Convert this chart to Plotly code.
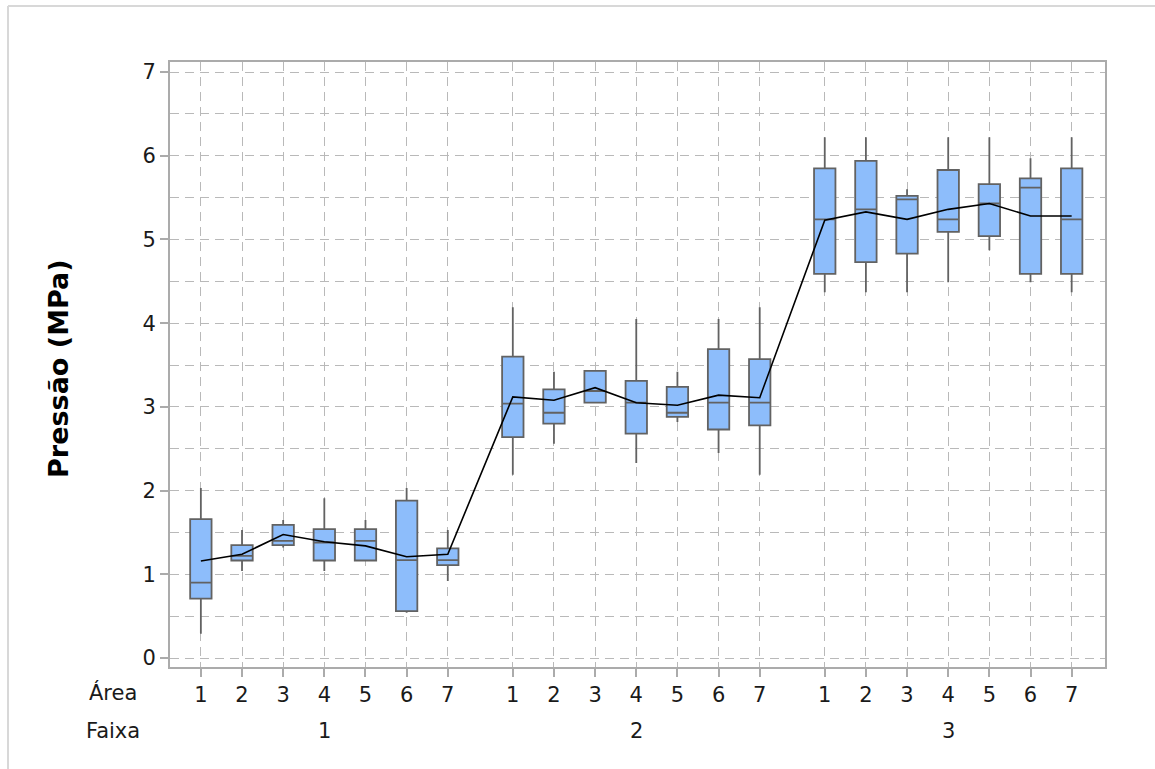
import plotly.graph_objects as go

# Pressure statistics per (Faixa, Área) cell, 7 areas in each of 3 faixas
faixas = [1, 2, 3]
areas = [1, 2, 3, 4, 5, 6, 7]

whisker_hi = [2.03, 1.53, 1.65, 1.91, 1.65, 2.03, 1.53,
              4.19, 3.42, 3.43, 4.05, 3.42, 4.05, 4.19,
              6.22, 6.22, 5.60, 6.22, 6.22, 5.97, 6.22]
q3 = [1.66, 1.35, 1.59, 1.54, 1.54, 1.88, 1.31,
      3.60, 3.21, 3.43, 3.31, 3.24, 3.69, 3.57,
      5.85, 5.94, 5.52, 5.83, 5.66, 5.73, 5.85]
median = [0.90, 1.22, 1.40, 1.38, 1.40, 1.17, 1.17,
          3.04, 2.93, 3.19, 3.05, 2.93, 3.05, 3.05,
          5.24, 5.36, 5.48, 5.24, 5.43, 5.62, 5.24]
q1 = [0.71, 1.165, 1.35, 1.165, 1.165, 0.56, 1.11,
      2.64, 2.80, 3.05, 2.68, 2.88, 2.73, 2.78,
      4.59, 4.73, 4.83, 5.09, 5.04, 4.59, 4.59]
whisker_lo = [0.29, 1.04, 1.32, 1.04, 1.16, 0.54, 0.92,
              2.19, 2.56, 3.05, 2.33, 2.82, 2.45, 2.19,
              4.37, 4.37, 4.37, 4.49, 4.87, 4.49, 4.37]
mean = [1.16, 1.24, 1.475, 1.39, 1.34, 1.21, 1.24,
        3.12, 3.08, 3.23, 3.05, 3.02, 3.14, 3.11,
        5.23, 5.33, 5.24, 5.36, 5.43, 5.28, 5.28]

# Numeric x positions: areas one unit apart, faixas separated by a wider gap
GROUP_STRIDE = 7.58
positions = []
for gi, _f in enumerate(faixas):
    for ai, _a in enumerate(areas):
        positions.append(gi * GROUP_STRIDE + ai)
tick_text = [str(a) for _f in faixas for a in areas]

BOX_FILL = "#8dbdfb"
BOX_LINE = "#626262"
GRID = "#b9b9b9"
AXIS = "#ababab"
TEXT = "#1a1a1a"
FONT = "DejaVu Sans"
TICK_SIZE = 21
DASH = "9px,6px"

fig = go.Figure()

fig.add_trace(go.Box(
    x=positions,
    q1=q1, median=median, q3=q3,
    lowerfence=whisker_lo, upperfence=whisker_hi,
    width=0.52,
    whiskerwidth=0,
    fillcolor=BOX_FILL,
    line=dict(color=BOX_LINE, width=1.8),
    boxpoints=False,
    showlegend=False,
    hoverinfo="skip",
))

fig.add_trace(go.Scatter(
    x=positions, y=mean,
    mode="lines",
    line=dict(color="black", width=1.6),
    showlegend=False,
    hoverinfo="skip",
))

fig.update_layout(
    width=1155, height=769,
    margin=dict(l=170, r=50, t=62, b=102),
    paper_bgcolor="white",
    plot_bgcolor="white",
    font=dict(family=FONT, size=TICK_SIZE, color=TEXT),
    xaxis=dict(
        range=[-0.75, 21.97],
        tickmode="array",
        tickvals=positions,
        ticktext=tick_text,
        ticks="outside", ticklen=8, tickwidth=1.5, tickcolor=AXIS,
        tickfont=dict(size=TICK_SIZE),
        showgrid=True, gridcolor=GRID, griddash=DASH, gridwidth=1.4,
        showline=True, linecolor=AXIS, linewidth=2, mirror=True,
        zeroline=False,
    ),
    yaxis=dict(
        range=[-0.107, 7.12],
        tickmode="linear", tick0=0, dtick=1,
        ticks="outside", ticklen=8, tickwidth=1.5, tickcolor=AXIS,
        tickfont=dict(size=TICK_SIZE),
        showgrid=True, gridcolor=GRID, griddash=DASH, gridwidth=1.4,
        minor=dict(dtick=0.5, showgrid=True, gridcolor=GRID,
                   griddash=DASH, gridwidth=1.4, ticks=""),
        showline=True, linecolor=AXIS, linewidth=2, mirror=True,
        zeroline=False,
    ),
)

# Y-axis title
fig.add_annotation(
    text="<b>Pressão (MPa)</b>", textangle=-90,
    xref="paper", yref="paper", x=-0.12, y=0.494,
    xanchor="center", yanchor="middle", showarrow=False,
    font=dict(family=FONT, size=27, color="black"),
)

# Row labels of the two-level category axis
fig.add_annotation(text="Área", xref="paper", yref="paper",
                   x=-0.061, y=-0.042, xanchor="center", yanchor="middle",
                   showarrow=False, font=dict(family=FONT, size=TICK_SIZE, color=TEXT))
fig.add_annotation(text="Faixa", xref="paper", yref="paper",
                   x=-0.061, y=-0.106, xanchor="center", yanchor="middle",
                   showarrow=False, font=dict(family=FONT, size=TICK_SIZE, color=TEXT))

# Faixa values centred under each group
for gi, f in enumerate(faixas):
    centre = positions[gi * len(areas) + 3]
    fig.add_annotation(text=str(f), xref="x", yref="paper",
                       x=centre, y=-0.106, xanchor="center", yanchor="middle",
                       showarrow=False, font=dict(family=FONT, size=TICK_SIZE, color=TEXT))

# Thin frame along the top and left edges of the figure
top = (769 - 102 - 6) / 605
fig.add_shape(type="line", xref="paper", yref="paper",
              x0=-162 / 935, x1=1.2, y0=top, y1=top,
              line=dict(color="#d8d8d8", width=2))
fig.add_shape(type="line", xref="paper", yref="paper",
              x0=-162 / 935, x1=-162 / 935, y0=-0.3, y1=top,
              line=dict(color="#d8d8d8", width=2))

fig.write_html("out.html")
